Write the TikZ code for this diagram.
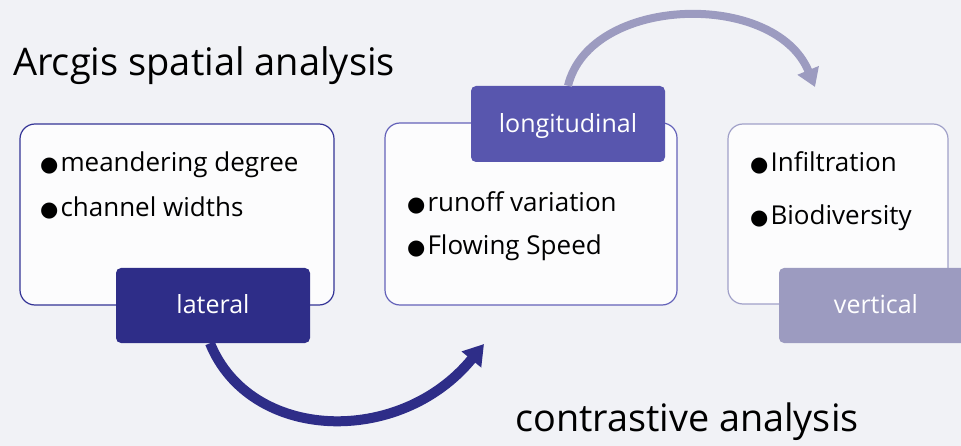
\documentclass[tikz,border=0pt]{standalone}
\usepackage{fontspec}
\setmainfont{Open Sans}
\newfontfamily\dejavu{DejaVu Sans}
\usetikzlibrary{arrows.meta}
\definecolor{bg}{RGB}{241,242,246}
\definecolor{boxfill}{RGB}{252,252,253}
\definecolor{darkb}{RGB}{46,45,136}
\definecolor{midb}{RGB}{88,86,174}
\definecolor{lightb}{RGB}{156,155,192}
\definecolor{border1}{RGB}{52,52,150}
\definecolor{border2}{RGB}{100,98,185}
\definecolor{border3}{RGB}{160,160,200}
\newcommand{\bul}{{\dejavu\fontsize{21}{21}\selectfont ●}\hspace{2pt}}
\tikzset{
  card/.style={draw, line width=1.2pt, fill=boxfill, rounded corners=15pt, inner sep=0pt},
  tab/.style={rounded corners=5pt, inner sep=0pt, minimum width=194pt},
  tabtext/.style={text=white, font=\fontsize{25}{25}\selectfont, inner sep=0pt, anchor=base},
  item/.style={font=\fontsize{26}{26}\selectfont, inner sep=0pt, anchor=base west},
  title/.style={font=\fontsize{38}{38}\selectfont, inner sep=0pt, anchor=base west},
}
\begin{document}
\begin{tikzpicture}[x=1pt,y=-1pt]
\fill[bg] (0,0) rectangle (961,446);
\useasboundingbox (0,0) rectangle (961,446);
% cards
\node[card, draw=border1, minimum width=314pt, minimum height=181pt] (b1) at (177,214.5) {};
\node[card, draw=border2, minimum width=292pt, minimum height=182pt] (b2) at (531,214) {};
\node[card, draw=border3, minimum width=220pt, minimum height=180pt] (b3) at (838,214) {};
% tabs
\node[tab, fill=darkb, minimum height=75pt] (t1) at (213,305.5) {};
\node[tab, fill=midb, minimum height=76pt] (t2) at (568,124) {};
\node[tab, fill=lightb, minimum height=75pt] (t3) at (876,305.5) {};
\node[tabtext] (l1) at (213,313.3) {lateral};
\node[tabtext] (l2) at (568,132.7) {longitudinal};
\node[tabtext] (l3) at (876,313.3) {vertical};
% items
\node[item] (i11) at (40,171.7) {\bul meandering degree};
\node[item] (i12) at (40,216.7) {\bul channel widths};
\node[item] (i21) at (407,211.7) {\bul runoff variation};
\node[item] (i22) at (407,255) {\bul Flowing Speed};
\node[item] (i31) at (750,171.7) {\bul Infiltration};
\node[item] (i32) at (750,225) {\bul Biodiversity};
% titles
\node[title] (h1) at (13,75.7) {Arcgis spatial analysis};
\node[title, font=\fontsize{37.8}{37.8}\selectfont] (h2) at (515,431.7) {contrastive analysis};
% arrows
\coordinate (e1) at (484,344);
\coordinate (e2) at (815,87);
\draw[darkb, line width=10pt, -{Triangle[length=20pt,width=24pt]}] (t1.south -| 210,0) .. controls (250,442) and (400,447) .. (e1);
\draw[lightb, line width=8pt, -{Triangle[length=18pt,width=22pt]}] (t2.north -| 568,0) .. controls (590,-5) and (775,-10) .. (e2);
\end{tikzpicture}
\end{document}
